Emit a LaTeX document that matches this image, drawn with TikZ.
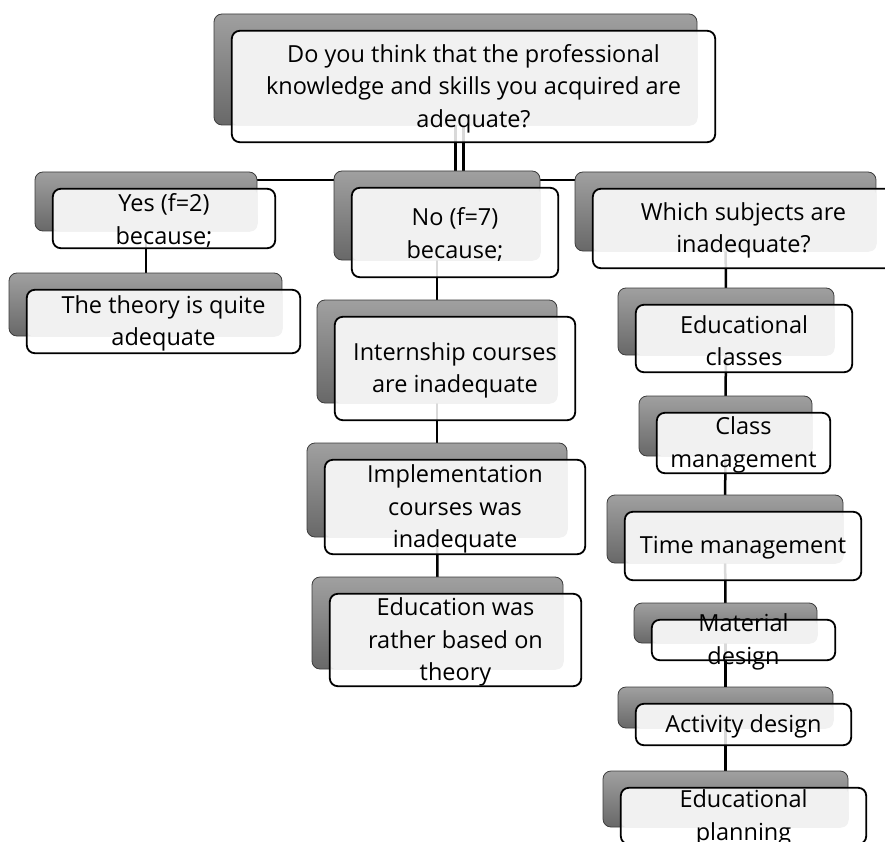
\documentclass[tikz,border=0pt]{standalone}
\usepackage{fontspec}
\setmainfont{Open Sans}
\usetikzlibrary{fit}
\pgfdeclarelayer{paper}
\pgfdeclarelayer{bg}
\pgfsetlayers{paper,bg,main}
\definecolor{backtop}{RGB}{160,160,160}
\definecolor{backbot}{RGB}{104,104,104}
\definecolor{panelc}{RGB}{241,241,241}
\definecolor{backedge}{RGB}{60,60,60}
\tikzset{
  backbox/.style={rounded corners=8pt, top color=backtop, bottom color=backbot, draw=backedge, line width=0.8pt, inner sep=0pt},
  frontbox/.style={rounded corners=8pt, fill=white, fill opacity=0.85, inner sep=0pt},
  panelfill/.style={fill=panelc, rounded corners=7pt},
  frontline/.style={draw=black, line width=1.8pt, rounded corners=8pt},
  txt/.style={align=center, font=\fontsize{23.5}{32.5}\selectfont, inner sep=0pt, text=black},
  conn/.style={draw=black, line width=2.5pt},
}
\newcommand{\twobox}[6]{%
  \node[backbox, fit={(#2,#3) (#4,#5)}] (#1-b) {};
  \node[frontbox, fit={({#2+18},{#3+17}) ({#4+18},{#5+17})}] (#1-f) {};
  \fill[panelfill] (#1-f.north west) rectangle (#1-b.south east);
  \draw[frontline] (#1-f.north west) rectangle (#1-f.south east);
  \node[txt] (#1-t) at ([yshift=-2pt]#1-f.center) {#6};
}
\begin{document}
\begin{tikzpicture}[x=1pt,y=-1pt]
\useasboundingbox (0,0) rectangle (885,842);
\clip (0,0) rectangle (885,842);
\begin{pgfonlayer}{paper}
  \fill[white] (0,0) rectangle (885,842);
\end{pgfonlayer}

\twobox{top}{214}{14}{697}{125}{Do you think that the professional\\knowledge and skills you acquired are\\adequate?}
\twobox{yes}{35}{172}{257}{231}{Yes (f=2)\\because;}
\twobox{theory}{9}{273}{282}{336}{The theory is quite\\adequate}
\twobox{no}{334}{171}{540}{260}{No (f=7)\\because;}
\twobox{intern}{317}{300}{557}{403}{Internship courses\\are inadequate}
\twobox{impl}{307}{443}{567}{537}{Implementation\\courses was\\inadequate}
\twobox{edu}{312}{577}{563}{669}{Education was\\rather based on\\theory}
\twobox{which}{575}{172}{876}{251}{Which subjects are\\inadequate?}
\twobox{classes}{618}{288}{834}{355}{Educational\\classes}
\twobox{class}{639}{396}{812}{456}{Class\\management}
\twobox{time}{607}{495}{843}{563}{Time management}
\twobox{material}{634}{603}{817}{643}{Material\\design}
\twobox{activity}{618}{687}{833}{728}{Activity design}
\twobox{planning}{603}{771}{848}{827}{Educational\\planning}

\coordinate (hub) at (459,180);
\coordinate (dbl) at ([xshift=8pt]top-b.center);
\begin{pgfonlayer}{bg}
  \draw[conn, line width=3.2pt] (top-b.center) -- (top-b.center |- no-b.center);
  \draw[conn, line width=2.4pt] (dbl) -- (dbl |- no-b.center);
  \draw[conn] (yes-b.center) |- (hub) -| (which-b.center);
  \draw[conn] (yes-b.center) -- (yes-b.center |- theory-b.center);
  \draw[conn] (no-b.center) -- (intern-b.center);
  \draw[conn] (intern-b.center) -- (impl-b.center);
  \draw[conn] (impl-b.center) -- (edu-b.center);
  \draw[conn] (which-b.center) -- (classes-b.center);
  \draw[conn] (classes-b.center) -- (class-b.center);
  \draw[conn] (class-b.center) -- (time-b.center);
  \draw[conn] (time-b.center) -- (material-b.center);
  \draw[conn] (material-b.center) -- (activity-b.center);
  \draw[conn] (activity-b.center) -- (planning-b.center);
\end{pgfonlayer}
% the line passes over the overflowing word below the box
\draw[conn] (material-b.center |- material-f.south) -- (material-b.center |- activity-b.north);
\end{tikzpicture}
\end{document}
